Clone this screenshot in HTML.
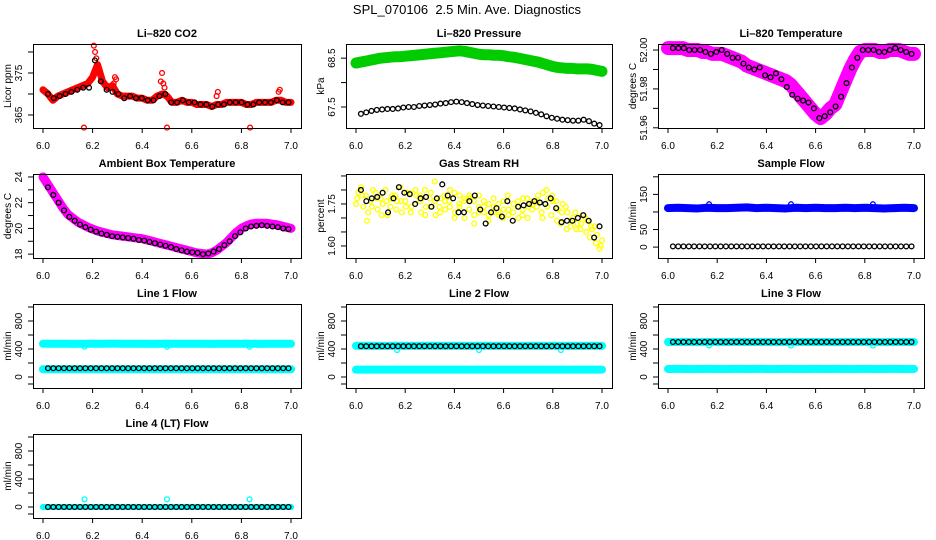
<!DOCTYPE html>
<html><head><meta charset="utf-8"><style>
html,body{margin:0;padding:0;background:#fff;}
svg{display:block;font-family:"Liberation Sans",sans-serif;}
</style></head><body>
<svg id="chart" width="936" height="540" viewBox="0 0 936 540" xmlns="http://www.w3.org/2000/svg">
<rect width="936" height="540" fill="#fff"/>
<text x="467" y="14" font-size="13" text-anchor="middle" xml:space="preserve">SPL_070106  2.5 Min. Ave. Diagnostics</text>
</svg>
<script>
// ---------- data ----------
const co2Red = [371,370,368.5,369.5,370,370.5,371,371.5,372,372.5,374,377,373,371.5,372,370,369.5,369.5,369.5,369,369,368.5,368.5,369.5,370,369.5,368,368,368.5,368,368,367.5,367.5,367.5,367,367.5,367.5,368,368,368,368,367.5,367.5,368,368,368,368,368.5,368.5,368,368];
const co2SpikeX = [6.205,6.21,6.215,6.22,6.225,6.28,6.285,6.29,6.295,6.475,6.48,6.485,6.49,6.70,6.705,6.95,6.955,6.165,6.50,6.835];
const co2SpikeY = [381.5,380,378.5,377,376,371.5,372.5,374,373.5,373,375,372.5,371.5,369.5,370.5,370.5,371,362,362,362];
const co2Black = [370,369,369.5,370,370.5,371,371.5,371.5,378,373,371,370.5,370,369,369.5,369,369,368.5,368.5,369.5,370,368,368,368.5,368,368,367.5,367.5,367,367.5,367.5,368,368,368,367.5,367.5,368,368,368,368.5,368,368];

const presGreen = [68.40,68.42,68.44,68.46,68.48,68.50,68.51,68.52,68.53,68.53,68.54,68.55,68.56,68.57,68.58,68.59,68.60,68.61,68.62,68.63,68.64,68.65,68.64,68.62,68.60,68.58,68.57,68.57,68.56,68.56,68.55,68.53,68.52,68.50,68.48,68.46,68.44,68.42,68.39,68.36,68.33,68.31,68.30,68.29,68.29,68.28,68.28,68.28,68.27,68.25,68.23];
const presBlack = [67.36,67.39,67.42,67.44,67.45,67.46,67.46,67.47,67.49,67.50,67.50,67.52,67.53,67.54,67.55,67.57,67.58,67.60,67.61,67.60,67.58,67.56,67.54,67.53,67.52,67.51,67.50,67.49,67.48,67.47,67.45,67.43,67.41,67.38,67.35,67.31,67.28,67.26,67.24,67.23,67.22,67.22,67.24,67.21,67.16,67.13];

const tempMag = [52.001,52.001,52.001,52.001,52.000,52.000,52.000,51.999,51.999,51.998,51.998,51.998,51.997,51.996,51.995,51.994,51.992,51.991,51.990,51.989,51.988,51.987,51.986,51.985,51.984,51.982,51.979,51.976,51.973,51.970,51.967,51.965,51.967,51.970,51.972,51.978,51.984,51.990,51.995,51.999,52.000,52.000,52.000,51.999,51.999,52.000,52.000,52.000,51.999,51.998,51.998];
const tempBlack = [52.001,52.001,52.001,52.000,52.000,52.000,51.999,51.998,51.999,52.000,51.998,51.996,51.996,51.993,51.991,51.990,51.991,51.987,51.986,51.988,51.985,51.981,51.977,51.975,51.974,51.973,51.970,51.965,51.966,51.968,51.971,51.976,51.983,51.991,51.996,52.000,52.000,52.000,51.999,51.999,52.000,52.001,52.000,51.999,51.998];

const ambMag = [24.0,23.4,22.8,22.2,21.6,21.1,20.8,20.5,20.3,20.1,19.95,19.8,19.7,19.6,19.5,19.45,19.4,19.35,19.3,19.25,19.2,19.1,19.0,18.9,18.8,18.7,18.6,18.5,18.4,18.3,18.2,18.1,18.05,18.0,18.1,18.3,18.6,18.9,19.3,19.7,20.0,20.2,20.35,20.4,20.4,20.4,20.35,20.3,20.2,20.1,20.0];
const ambBlack = [23.2,22.6,22.0,21.4,20.9,20.6,20.3,20.1,19.9,19.75,19.6,19.5,19.4,19.35,19.3,19.25,19.2,19.1,19.05,18.95,18.85,18.75,18.65,18.55,18.4,18.3,18.2,18.15,18.1,18.0,18.05,18.2,18.4,18.7,19.0,19.4,19.7,20.0,20.15,20.2,20.25,20.2,20.15,20.1,20.0,19.95];

const rhYellowA = [1.75,1.81,1.78,1.76,1.79,1.77,1.80,1.74,1.78,1.81,1.76,1.79,1.75,1.78,1.80,1.77,1.83,1.74,1.78,1.76,1.79,1.75,1.77,1.73,1.76,1.78,1.72,1.75,1.74,1.71,1.76,1.73,1.75,1.70,1.77,1.74,1.76,1.78,1.79,1.77,1.76,1.73,1.75,1.72,1.70,1.68,1.71,1.69,1.66,1.64,1.62];
const rhYellowB = [1.79,1.74,1.72,1.80,1.73,1.75,1.71,1.78,1.76,1.72,1.79,1.74,1.78,1.72,1.74,1.79,1.71,1.77,1.73,1.80,1.72,1.78,1.70,1.77,1.71,1.74,1.76,1.69,1.72,1.75,1.70,1.78,1.69,1.74,1.71,1.77,1.73,1.74,1.72,1.80,1.71,1.76,1.68,1.74,1.67,1.72,1.66,1.70,1.63,1.67,1.59];
const rhYellowC = [1.77,1.78,1.69,1.74,1.77,1.71,1.76,1.77,1.73,1.76,1.74,1.72,1.80,1.76,1.71,1.74,1.76,1.72,1.76,1.74,1.70,1.74,1.76,1.78,1.68,1.72,1.74,1.71,1.77,1.72,1.73,1.71,1.72,1.76,1.73,1.70,1.75,1.76,1.70,1.74,1.78,1.69,1.72,1.66,1.69,1.66,1.68,1.65,1.67,1.61,1.60];
const rhBlack = [1.80,1.76,1.77,1.775,1.79,1.72,1.77,1.81,1.79,1.785,1.75,1.77,1.775,1.74,1.77,1.82,1.78,1.77,1.72,1.72,1.76,1.78,1.73,1.68,1.72,1.735,1.705,1.76,1.69,1.74,1.745,1.75,1.76,1.755,1.75,1.77,1.735,1.685,1.69,1.69,1.70,1.71,1.69,1.63,1.67];

const sampleBlue = [111,112,111,110,112,111,111,112,113,111,112,111,110,112,111,112,111,111,112,111,112,111,110,111,112,111];
const sampleBlack = [2,2,2,2,2,2,2,2,2,2,2,2,2,2,2,2,2,2,2,2,2,2,2,2,2,2,2,2,2,2,2,2,2,2,2,2,2,2,2,2,2,2,2,2,2,2];
const spikeX = [6.167,6.5,6.833];
const sampleSpike = [122,122,122];

const l1CyanHi = [475,476,475,474,476,475,475,477,476,475,476,474,475,476,475,476,475,474,476,475,476,475,474,475,476,475];
const l1CyanLo = [110,111,110,110,111,110,110,111,110,111,110,110,111,110,110,111,110,111,110,110,111,110,110,111,110,110];
const l1Black = [125,125,125,125,125,125,125,125,125,125,125,125,125,125,125,125,125,125,125,125,125,125,125,125,125,125,125,125,125,125,125,125,125,125,125,125,125,125,125,125,125,125,125,125,125,125];
const l1Dip = [432,432,432];

const l2CyanHi = [445,446,445,444,446,445,445,447,446,445,446,444,445,446,445,446,445,444,446,445,446,445,444,445,446,445];
const l2CyanLo = [105,106,105,105,106,105,105,106,105,106,105,105,106,105,105,106,105,106,105,105,106,105,105,106,105,105];
const l2Black = [440,440,440,440,440,440,440,440,440,440,440,440,440,440,440,440,440,440,440,440,440,440,440,440,440,440,440,440,440,440,440,440,440,440,440,440,440,440,440,440,440,440,440,440,440,440];
const l2Dip = [385,385,385];

const l3CyanHi = [500,501,500,499,501,500,500,502,501,500,501,499,500,501,500,501,500,499,501,500,501,500,499,500,501,500];
const l3CyanLo = [115,116,115,115,116,115,115,116,115,116,115,115,116,115,115,116,115,116,115,115,116,115,115,116,115,115];
const l3Black = [500,500,500,500,500,500,500,500,500,500,500,500,500,500,500,500,500,500,500,500,500,500,500,500,500,500,500,500,500,500,500,500,500,500,500,500,500,500,500,500,500,500,500,500,500,500];
const l3Dip = [450,450,450];

const l4Cyan = [0,0,0,0,0,0,0,0,0,0,0,0,0,0,0,0,0,0,0,0,0,0,0,0,0,0];
const l4Black = [0,0,0,0,0,0,0,0,0,0,0,0,0,0,0,0,0,0,0,0,0,0,0,0,0,0,0,0,0,0,0,0,0,0,0,0,0,0,0,0,0,0,0,0,0,0];
const l4Spike = [110,110,110];

const xTicks = [6.0,6.2,6.4,6.6,6.8,7.0];
const xTickLabels = ["6.0","6.2","6.4","6.6","6.8","7.0"];

// ---------- layout ----------
const colL = [33,346,658], colW = [268,266,266], rowT = [44,174,304,434], BH = 84;
const svg = document.getElementById('chart');
const NS = 'http://www.w3.org/2000/svg';
function mk(tag, attrs, parent){const e=document.createElementNS(NS,tag);for(const k in attrs)e.setAttribute(k,attrs[k]);(parent||svg).appendChild(e);return e;}

function flowTicks(){return {ticks:[-100,0,200,400,600,800,1000],labels:['','0','','400','','800',''],ymin:-157,ymax:1043};}
const panels = [
 {name:'co2',title:'Li-820 CO2',ylab:'Licor ppm',c:0,r:0,ymin:361.9,ymax:381.9,ticks:[365,370,375,380],labels:['365','','375',''],
  series:[{y:co2Red,x0:6,x1:7,col:'#f00',band:7},{x:co2SpikeX,y:co2SpikeY,col:'#f00'},{y:co2Black,x0:6.02,x1:6.99,col:'#000'}]},
 {name:'pressure',title:'Li-820 Pressure',ylab:'kPa',c:1,r:0,ymin:67.07,ymax:68.79,ticks:[67.5,68.0,68.5],labels:['67.5','','68.5'],
  series:[{y:presGreen,x0:6,x1:7,col:'#0c0',band:11},{y:presBlack,x0:6.02,x1:6.99,col:'#000'}]},
 {name:'li820-temperature',title:'Li-820 Temperature',ylab:'degrees C',c:2,r:0,ymin:51.9599,ymax:52.0031,ticks:[51.96,51.97,51.98,51.99,52.00],labels:['51.96','','51.98','','52.00'],
  series:[{y:tempMag,x0:6,x1:7,col:'#f0f',band:14},{y:tempBlack,x0:6.02,x1:6.99,col:'#000'}]},
 {name:'ambient-temperature',title:'Ambient Box Temperature',ylab:'degrees C',c:0,r:1,ymin:17.7,ymax:24.23,ticks:[18,19,20,21,22,23,24],labels:['18','','20','','22','','24'],
  series:[{y:ambMag,x0:6,x1:7,col:'#f0f',band:9},{y:ambBlack,x0:6.02,x1:6.99,col:'#000'}]},
 {name:'gas-stream-rh',title:'Gas Stream RH',ylab:'percent',c:1,r:1,ymin:1.557,ymax:1.857,ticks:[1.60,1.65,1.70,1.75,1.80,1.85],labels:['1.60','','','1.75','',''],
  series:[{y:rhYellowA,x0:6,x1:7,col:'#ff0'},{y:rhYellowB,x0:6.01,x1:6.99,col:'#ff0'},{y:rhYellowC,x0:6.005,x1:6.995,col:'#ff0'},{y:rhBlack,x0:6.02,x1:6.99,col:'#000'}]},
 {name:'sample-flow',title:'Sample Flow',ylab:'ml/min',c:2,r:1,ymin:-31,ymax:208,ticks:[0,50,100,150,200],labels:['0','50','','150',''],
  series:[{y:sampleBlue,x0:6,x1:7,col:'#00f',band:8},{x:spikeX,y:sampleSpike,col:'#00f'},{y:sampleBlack,x0:6.02,x1:6.99,col:'#000'}]},
 Object.assign({name:'line1-flow',title:'Line 1 Flow',ylab:'ml/min',c:0,r:2,
  series:[{y:l1CyanHi,x0:6,x1:7,col:'#0ff',band:8},{y:l1CyanLo,x0:6,x1:7,col:'#0ff',band:8},{x:spikeX,y:l1Dip,col:'#0ff'},{y:l1Black,x0:6.02,x1:6.99,col:'#000'}]},flowTicks()),
 Object.assign({name:'line2-flow',title:'Line 2 Flow',ylab:'ml/min',c:1,r:2,
  series:[{y:l2CyanHi,x0:6,x1:7,col:'#0ff',band:8},{y:l2CyanLo,x0:6,x1:7,col:'#0ff',band:8},{x:spikeX,y:l2Dip,col:'#0ff'},{y:l2Black,x0:6.02,x1:6.99,col:'#000'}]},flowTicks()),
 Object.assign({name:'line3-flow',title:'Line 3 Flow',ylab:'ml/min',c:2,r:2,
  series:[{y:l3CyanHi,x0:6,x1:7,col:'#0ff',band:8},{y:l3CyanLo,x0:6,x1:7,col:'#0ff',band:8},{x:spikeX,y:l3Dip,col:'#0ff'},{y:l3Black,x0:6.02,x1:6.99,col:'#000'}]},flowTicks()),
 Object.assign({name:'line4-flow',title:'Line 4 (LT) Flow',ylab:'ml/min',c:0,r:3,
  series:[{y:l4Cyan,x0:6,x1:7,col:'#0ff',band:6},{x:spikeX,y:l4Spike,col:'#0ff'},{y:l4Black,x0:6.02,x1:6.99,col:'#000'}]},flowTicks())
];

panels.forEach(p=>{
  const L=colL[p.c], W=colW[p.c], T=rowT[p.r], B=T+BH;
  const xs = v => L+10+(v-6)*(W-20);
  const ys = v => B-(v-p.ymin)/(p.ymax-p.ymin)*BH;
  const g = mk('g',{});
  
  
  const t = mk('text',{x:L+W/2,y:T-7,'font-size':11,'font-weight':'bold','text-anchor':'middle'},g);
  t.textContent = p.title.replace('-','\u2013');
  
  
  // series
  const plot = mk('g',{},g);
  
  
  p.series.forEach((s,si)=>{
    const n=s.y.length;
    const X = s.x ? s.x : s.y.map((_,i)=> s.x0 + (s.x1-s.x0)*i/(n-1));
    if(s.band){
      const pl = mk('polyline',{points:X.map((x,i)=>xs(x)+','+ys(s.y[i])).join(' '),fill:'none',stroke:s.col,'stroke-width':s.band,'stroke-linejoin':'round','stroke-linecap':'round'},plot);
      
      
    }
    X.forEach((x,i)=>{
      const c = mk('circle',{cx:xs(x),cy:ys(s.y[i]),r:2.4,fill:'none',stroke:s.col,'stroke-width':1.3},plot);
      
      
    });
  });
  // box
  const bx = mk('rect',{x:L+0.5,y:T+0.5,width:W,height:BH,fill:'none',stroke:'#000','stroke-width':1},g);
  
  
  // x axis
  const xa = mk('g',{},g);
  
  
  xTicks.forEach((v,i)=>{
    mk('line',{x1:xs(v),x2:xs(v),y1:B,y2:B+5,stroke:'#000'},xa);
    const tl = mk('text',{x:xs(v),y:B+21,'font-size':10,'text-anchor':'middle'},xa);
    tl.textContent = xTickLabels[i];
    
    
  });
  // y axis
  const ya = mk('g',{},g);
  
  
  p.ticks.forEach((v,i)=>{
    const y=ys(v);
    if(y<T-2||y>B+2) return;
    mk('line',{x1:L-5,x2:L,y1:y,y2:y,stroke:'#000'},ya);
    if(p.labels[i]){
      const tl = mk('text',{x:0,y:0,'font-size':10,'text-anchor':'middle',transform:'translate('+(L-11)+','+y+') rotate(-90)'},ya);
      tl.textContent = p.labels[i];
      
      
    }
  });
  const yl = mk('text',{x:0,y:0,'font-size':10,'text-anchor':'middle',transform:'translate('+(L-22)+','+(T+BH/2)+') rotate(-90)'},g);
  yl.textContent = p.ylab;
  
  
});
</script>
</body></html>
